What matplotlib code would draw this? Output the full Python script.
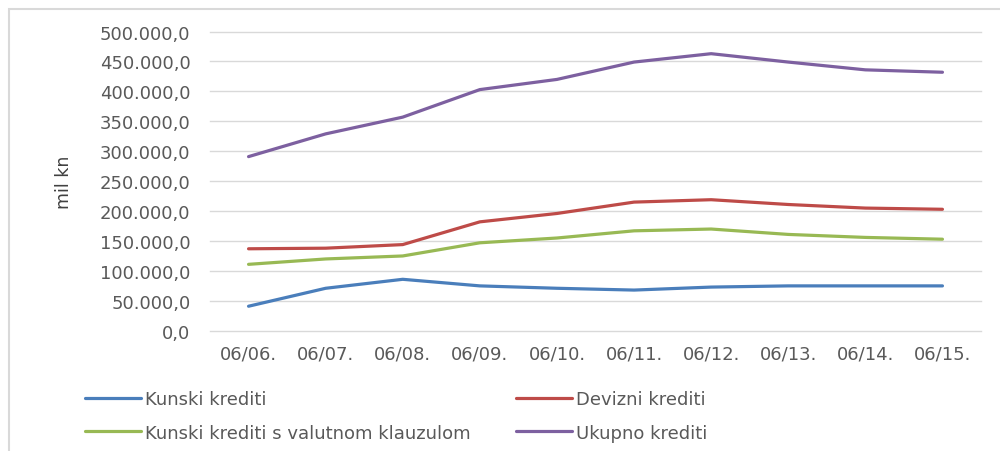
import numpy as np
import matplotlib.pyplot as plt
from matplotlib.patches import Rectangle
from matplotlib.ticker import FuncFormatter

plt.rcParams['font.family'] = ['DejaVu Sans']

years = ['06/06.', '06/07.', '06/08.', '06/09.', '06/10.', '06/11.', '06/12.', '06/13.', '06/14.', '06/15.']
kunski = [41000, 71000, 86000, 75000, 71000, 68000, 73000, 75000, 75000, 75000]
devizni = [137000, 138000, 144000, 182000, 196000, 215000, 219000, 211000, 205000, 203000]
klauzula = [111000, 120000, 125000, 147000, 155000, 167000, 170000, 161000, 156000, 153000]
ukupno = [291000, 329000, 357000, 403000, 420000, 449000, 463000, 449000, 436000, 432000]

names = ['Kunski krediti', 'Devizni krediti', 'Kunski krediti s valutnom klauzulom', 'Ukupno krediti']
colors = ['#4a7ebb', '#be4b48', '#98b954', '#7d60a0']

fig = plt.figure(figsize=(10, 4.52), dpi=100)
ax = fig.add_axes([0.210, 0.266, 0.771, 0.662])

x = np.arange(len(years))
lines = []
for vals, name, c in zip([kunski, devizni, klauzula, ukupno], names, colors):
    ln, = ax.plot(x, vals, color=c, lw=2.3, label=name, solid_capstyle='round')
    lines.append(ln)

ax.set_xlim(-0.5, len(years) - 0.5)
ax.set_ylim(0, 500000)
ax.set_yticks(np.arange(0, 500001, 50000))
ax.set_xticks(x)
ax.set_xticklabels(years)


def fmt(v, pos):
    s = f"{v:,.1f}"
    return s.replace(',', 'X').replace('.', ',').replace('X', '.')


ax.yaxis.set_major_formatter(FuncFormatter(fmt))
ax.grid(axis='y', color='#d9d9d9', lw=1)
for gl in ax.get_ygridlines():
    gl.set_clip_on(False)
ax.set_axisbelow(True)
for s in ax.spines.values():
    s.set_visible(False)
ax.tick_params(length=0, labelsize=13, labelcolor='#595959')
ax.tick_params(axis='y', pad=14)
ax.tick_params(axis='x', pad=10)
ax.set_ylabel('mil kn', fontsize=12.5, color='#404040')
ax.yaxis.set_label_coords(-0.178, 0.5)

# legend fills by column, so reorder to get rows: Kunski/Devizni, Klauzula/Ukupno
order = [0, 2, 1, 3]
leg = fig.legend([lines[i] for i in order], [names[i] for i in order],
                 loc='upper left', bbox_to_anchor=(0.085, 0.134), ncol=2, frameon=False,
                 fontsize=13, handlelength=3.1, handletextpad=0.2, columnspacing=2.55,
                 labelspacing=0.85, borderpad=0, borderaxespad=0)
for t in leg.get_texts():
    t.set_color('#595959')

fig.add_artist(Rectangle((0.009, -0.2), 1.2, 1.2 - 10 / 452, transform=fig.transFigure,
                         fill=False, edgecolor='#d9d9d9', lw=1.5))

fig.savefig('out.png', dpi=100)
